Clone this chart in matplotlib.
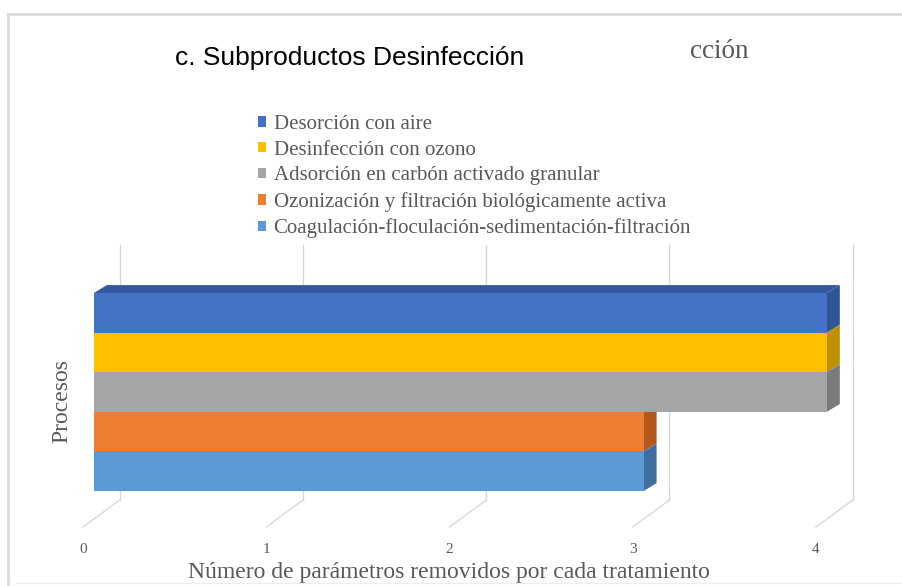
import matplotlib
matplotlib.use('Agg')
import matplotlib.pyplot as plt
from matplotlib.patches import Polygon
from matplotlib.lines import Line2D

# data (top to bottom, as in the chart)
procesos = ['Desorción con aire',
            'Desinfección con ozono',
            'Adsorción en carbón activado granular',
            'Ozonización y filtración biológicamente activa',
            'Coagulación-floculación-sedimentación-filtración']
valores = [4, 4, 4, 3, 3]
ticks = [0, 1, 2, 3, 4]

colores = ['#4472C4', '#FFC000', '#A5A5A5', '#ED7D31', '#5B9BD5']
laterales = ['#2F5597', '#BF9000', '#7B7B7B', '#B4581C', '#3F6FA0']
techo = '#34599F'

serif = ['Liberation Serif', 'DejaVu Serif']
gris = '#595959'
grid_c = '#D9D9D9'

W, H = 902, 586
fig = plt.figure(figsize=(W / 100, H / 100), dpi=100)

# axes box in pixels: left 70, right 870, top 240, bottom 540
px_x0, px_x1, px_top, px_bot = 70, 870, 240, 540
ax = fig.add_axes([px_x0 / W, 1 - px_bot / H, (px_x1 - px_x0) / W, (px_bot - px_top) / H])
ux = 183.25   # px per unit in x
uy = 39.6     # px per bar
ax.set_xlim((px_x0 - 94) / ux, (px_x1 - 94) / ux)
ax.set_ylim(-0.5 - (px_bot - 491) / uy, 4.5 + (293 - px_top) / uy)
ax.patch.set_visible(False)
for s in ax.spines.values():
    s.set_visible(False)

# 3d-ish offsets (data units)
dx, dy = 0.07, 0.2
back_dx = 0.14
back_bot = -0.73
back_top = 5.7
front_y = -1.41

# back wall + floor gridlines
for t in ticks:
    ax.plot([t + back_dx, t + back_dx], [back_bot, back_top], color=grid_c, lw=1, zorder=0)
    ax.plot([t + back_dx, t - 0.06], [back_bot, front_y], color=grid_c, lw=1, zorder=0)

n = len(procesos)
ypos = [n - 1 - i for i in range(n)]

# side faces
for y, v, c in zip(ypos, valores, laterales):
    ax.add_patch(Polygon([(v, y - 0.5), (v + dx, y - 0.5 + dy), (v + dx, y + 0.5 + dy), (v, y + 0.5)],
                         closed=True, facecolor=c, edgecolor='none', zorder=1))
# top face of the upper bar
ytop = ypos[0] + 0.5
ax.add_patch(Polygon([(0, ytop), (dx, ytop + dy), (valores[0] + dx, ytop + dy), (valores[0], ytop)],
                     closed=True, facecolor=techo, edgecolor='none', zorder=1))

# front faces
bars = []
for y, v, c in zip(ypos, valores, colores):
    b = ax.barh(y, v, height=1, left=0, color=c, edgecolor='none', zorder=2)
    bars.append(b[0])

ax.set_xticks([t - 0.06 for t in ticks])
ax.set_xticklabels([str(t) for t in ticks], fontsize=11, color=gris, family=serif)
ax.tick_params(axis='x', length=0, pad=2)
ax.set_yticks([])

ax.set_xlabel('Número de parámetros removidos por cada tratamiento', fontsize=17,
              color=gris, family=serif)
ax.xaxis.set_label_coords((449 - px_x0) / (px_x1 - px_x0), -(562 - px_bot) / (px_bot - px_top))
ax.set_ylabel('Procesos', fontsize=17, color=gris, family=serif)
ax.yaxis.set_label_coords((72 - px_x0) / (px_x1 - px_x0), (px_bot - 401) / (px_bot - px_top))

ax.legend(bars, procesos, loc='upper left',
          bbox_to_anchor=(258 / W, 1 - 115 / H), bbox_transform=fig.transFigure,
          frameon=False, prop={'family': serif, 'size': 15}, labelcolor=gris,
          handlelength=0.4, handleheight=0.4, handletextpad=0.35,
          labelspacing=0.32, borderpad=0, borderaxespad=0)

# titles
fig.text(175 / W, 1 - 58 / H, 'c. Subproductos Desinfección', ha='left', va='center',
         fontsize=19, family=['Liberation Sans', 'DejaVu Sans'], color='black')
fig.text(690 / W, 1 - 51 / H, 'cción', ha='left', va='center',
         fontsize=19.5, family=serif, color=gris)

# chart frame
fr = '#DCDCDC'
fig.add_artist(Line2D([8 / W, 1], [1 - 14 / H, 1 - 14 / H], transform=fig.transFigure,
                      color=fr, lw=2))
fig.add_artist(Line2D([8 / W, 8 / W], [1 - 14 / H, 0], transform=fig.transFigure,
                      color=fr, lw=2))
fig.add_artist(Line2D([16 / W, 1], [1 - 583 / H, 1 - 583 / H], transform=fig.transFigure,
                      color='#EDEDED', lw=1))

fig.savefig('out.png', dpi=100)
